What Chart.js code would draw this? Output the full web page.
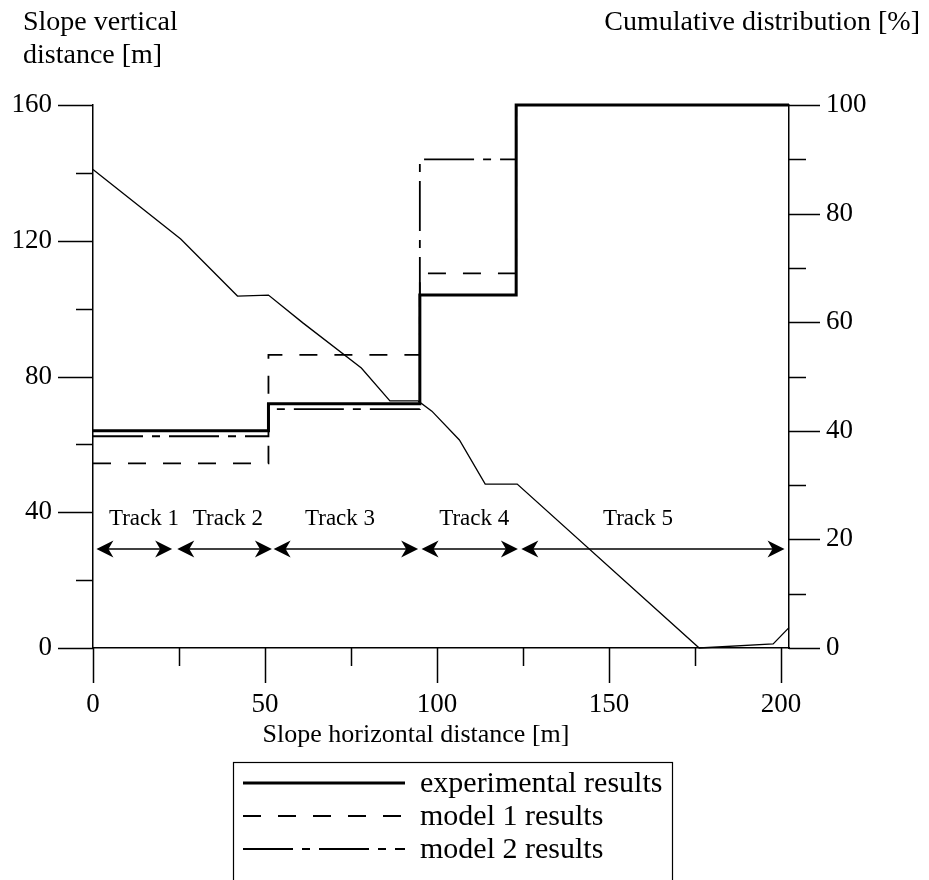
<!DOCTYPE html>
<html lang="en">
<head>
<meta charset="UTF-8">
<title>Slope profile and cumulative distribution</title>
<script src="https://cdn.jsdelivr.net/npm/chart.js"></script>
<style>
  body { margin: 0; background: #fff; }
  #wrap { width: 929px; height: 880px; position: relative; }
</style>
</head>
<body>
<div id="wrap"><canvas id="chart"></canvas></div>
<script>
// slope profile, left axis [m]
const profileX = [0, 25.5, 42, 51, 61, 78, 86.3, 94.5, 98.5, 106.5, 114, 123.3, 176.2, 197.7, 202.3];
const profileY = [141, 120.5, 103.7, 104, 95.8, 82.5, 72.8, 72.8, 69.8, 61.3, 48.3, 48.3, 0, 1.2, 6];

// cumulative distributions, right axis [%], each value holds until the next x
const stepX = [0, 51, 95, 123, 202.3];
const experimental = [40, 45, 65, 100, 100];
const model1 = [34, 54, 69, 100, 100];
const model2 = [39, 44, 90, 100, 100];

// tracks along the slope
const trackNames = ['Track 1', 'Track 2', 'Track 3', 'Track 4', 'Track 5'];
const trackFrom = [1, 24.5, 52.5, 95.5, 124.5];
const trackTo = [23, 52, 94.5, 123.5, 201];
const trackLabelX = [14.8, 39.2, 71.8, 110.8, 158.4];
const trackArrowLevel = 29.2;
const trackLabelLevel = 36.2;

// tick values
const xTicks = [0, 25, 50, 75, 100, 125, 150, 175, 200];
const yTicks = [0, 20, 40, 60, 80, 100, 120, 140, 160];
const y2Ticks = [0, 10, 20, 30, 40, 50, 60, 70, 80, 90, 100];

const FONT = "'Liberation Serif', 'DejaVu Serif', serif";

const pts = (xs, ys) => xs.map((v, i) => ({ x: v, y: ys[i] }));

const whiteBg = {
  id: 'whiteBg',
  beforeDraw(chart) {
    const ctx = chart.ctx;
    ctx.save();
    ctx.fillStyle = '#fff';
    ctx.fillRect(0, 0, chart.width, chart.height);
    ctx.restore();
  }
};

function arrowHead(ctx, tipX, y, dir) {
  const L = 17, H = 8.5, N = 12;
  ctx.beginPath();
  ctx.moveTo(tipX, y);
  ctx.lineTo(tipX - dir * L, y - H);
  ctx.lineTo(tipX - dir * N, y);
  ctx.lineTo(tipX - dir * L, y + H);
  ctx.closePath();
  ctx.fill();
}

const extras = {
  id: 'extras',
  afterDraw(chart) {
    const ctx = chart.ctx;
    const { x, y, y2 } = chart.scales;
    ctx.save();
    ctx.strokeStyle = '#000';
    ctx.fillStyle = '#000';
    ctx.lineWidth = 1.5;

    // tick marks (long for labelled ones)
    ctx.beginPath();
    x.ticks.forEach(t => {
      const px = Math.round(x.getPixelForValue(t.value)) + 0.5;
      const len = t.value % 50 === 0 ? 35 : 18;
      ctx.moveTo(px, y.bottom);
      ctx.lineTo(px, y.bottom + len);
    });
    y.ticks.forEach(t => {
      const py = Math.round(y.getPixelForValue(t.value)) + 0.5;
      const len = t.value % 40 === 0 ? 35 : 17;
      ctx.moveTo(x.left - len, py);
      ctx.lineTo(x.left, py);
    });
    y2.ticks.forEach(t => {
      const py = Math.round(y2.getPixelForValue(t.value)) + 0.5;
      const len = t.value % 20 === 0 ? 31 : 17;
      ctx.moveTo(x.right, py);
      ctx.lineTo(x.right + len, py);
    });
    ctx.stroke();

    // track arrows
    const ay = y.getPixelForValue(trackArrowLevel);
    ctx.lineWidth = 1.5;
    trackNames.forEach((name, i) => {
      const a = x.getPixelForValue(trackFrom[i]);
      const b = x.getPixelForValue(trackTo[i]);
      ctx.beginPath();
      ctx.moveTo(a + 5, ay);
      ctx.lineTo(b - 5, ay);
      ctx.stroke();
      arrowHead(ctx, a, ay, -1);
      arrowHead(ctx, b, ay, 1);
    });
    ctx.font = '23px ' + FONT;
    ctx.textAlign = 'center';
    ctx.textBaseline = 'alphabetic';
    const ly = y.getPixelForValue(trackLabelLevel);
    trackNames.forEach((name, i) => {
      ctx.fillText(name, x.getPixelForValue(trackLabelX[i]), ly);
    });

    // axis titles
    ctx.font = '28px ' + FONT;
    ctx.textAlign = 'left';
    ctx.fillText('Slope vertical', 23, 30);
    ctx.fillText('distance [m]', 23, 63);
    ctx.textAlign = 'right';
    ctx.fillText('Cumulative distribution [%]', 920, 30);
    ctx.font = '26px ' + FONT;
    ctx.textAlign = 'center';
    ctx.fillText('Slope horizontal distance [m]', 416, 742);

    // legend box
    ctx.lineWidth = 1.2;
    ctx.strokeRect(233.5, 762.5, 439, 140);
    ctx.font = '30px ' + FONT;
    ctx.textAlign = 'left';
    const items = chart.data.datasets.filter(d => d.inLegend);
    items.forEach((d, i) => {
      const ry = 783 + i * 33;
      ctx.save();
      ctx.strokeStyle = d.borderColor;
      ctx.lineWidth = d.borderWidth;
      ctx.setLineDash(d.borderDash || []);
      ctx.beginPath();
      ctx.moveTo(243, ry);
      ctx.lineTo(405, ry);
      ctx.stroke();
      ctx.restore();
      ctx.fillText(d.label, 420, ry + 9);
    });
    ctx.restore();
  }
};

const tickFont = { family: FONT, size: 27 };

new Chart(document.getElementById('chart'), {
  type: 'line',
  data: {
    datasets: [
      {
        label: 'experimental results', inLegend: true,
        data: pts(stepX, experimental), yAxisID: 'y2', stepped: 'before',
        borderColor: '#000', borderWidth: 3, pointRadius: 0, fill: false, order: 0, clip: false
      },
      {
        label: 'model 1 results', inLegend: true,
        data: pts(stepX, model1), yAxisID: 'y2', stepped: 'before',
        borderColor: '#000', borderWidth: 1.8, borderDash: [18, 17], pointRadius: 0, fill: false, order: 1, clip: false
      },
      {
        label: 'model 2 results', inLegend: true,
        data: pts(stepX, model2), yAxisID: 'y2', stepped: 'before',
        borderColor: '#000', borderWidth: 1.8, borderDash: [50, 9, 8, 9], pointRadius: 0, fill: false, order: 2, clip: false
      },
      {
        label: 'slope profile', inLegend: false,
        data: pts(profileX, profileY), yAxisID: 'y',
        borderColor: '#000', borderWidth: 1.3, pointRadius: 0, fill: false, order: 3, clip: false
      }
    ]
  },
  options: {
    responsive: true,
    maintainAspectRatio: false,
    animation: false,
    layout: { padding: { top: 105, left: 0, right: 0, bottom: 0 } },
    plugins: { legend: { display: false }, tooltip: { enabled: false } },
    scales: {
      x: {
        type: 'linear', position: 'bottom', min: 0, max: 202.3,
        afterBuildTicks: s => { s.ticks = xTicks.map(v => ({ value: v })); },
        afterFit: s => { s.height = 232; },
        grid: { display: false, drawTicks: false },
        border: { display: true, color: '#000', width: 1.5 },
        ticks: { padding: 41, color: '#000', font: tickFont, autoSkip: false, maxRotation: 0,
                 callback: v => (v % 50 === 0 ? v : '') }
      },
      y: {
        type: 'linear', position: 'left', min: 0, max: 160,
        afterBuildTicks: s => { s.ticks = yTicks.map(v => ({ value: v })); },
        afterFit: s => { s.width = 93; },
        grid: { display: false, drawTicks: false },
        border: { display: true, color: '#000', width: 1.5 },
        ticks: { padding: 41, color: '#000', font: tickFont, autoSkip: false,
                 callback: v => (v % 40 === 0 ? v : '') }
      },
      y2: {
        type: 'linear', position: 'right', min: 0, max: 100,
        afterBuildTicks: s => { s.ticks = y2Ticks.map(v => ({ value: v })); },
        afterFit: s => { s.width = 140; },
        grid: { display: false, drawTicks: false },
        border: { display: true, color: '#000', width: 1.5 },
        ticks: { padding: 37, color: '#000', font: tickFont, autoSkip: false,
                 callback: v => (v % 20 === 0 ? v : '') }
      }
    }
  },
  plugins: [whiteBg, extras]
});
</script>
</body>
</html>
